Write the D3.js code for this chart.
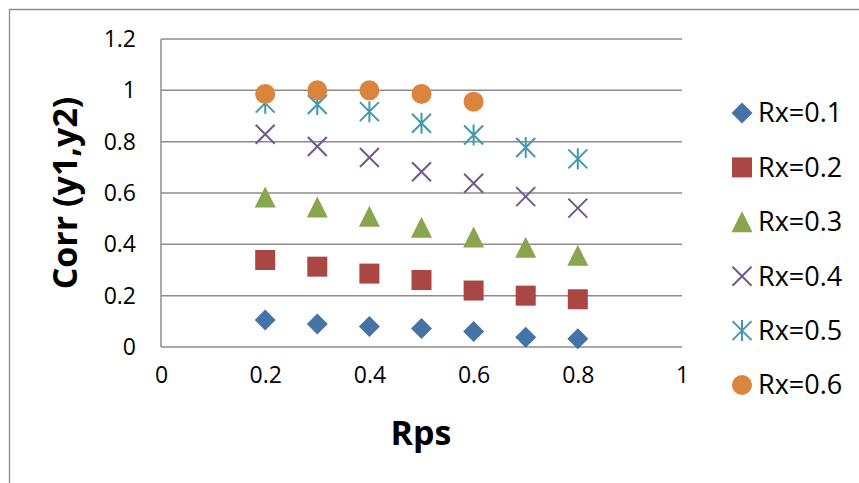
<!DOCTYPE html>
<html>
<head>
<meta charset="utf-8">
<script src="https://cdn.jsdelivr.net/npm/d3@7"></script>
<style>
  html, body { margin: 0; padding: 0; background: #fff; }
  svg { display: block; }
  text { font-family: "Open Sans", "Noto Sans", sans-serif; fill: #000; }
</style>
</head>
<body>
<svg id="chart" width="859" height="483"></svg>
<script>
// Rps values on the x axis
const rps = [0.2, 0.3, 0.4, 0.5, 0.6, 0.7, 0.8];

// Corr(y1,y2) for each Rx level
const rx01 = [0.105, 0.090, 0.080, 0.072, 0.060, 0.038, 0.032];
const rx02 = [0.339, 0.313, 0.286, 0.261, 0.220, 0.200, 0.186];
const rx03 = [0.584, 0.545, 0.509, 0.467, 0.429, 0.389, 0.357];
const rx04 = [0.829, 0.781, 0.738, 0.683, 0.638, 0.586, 0.541];
const rx05 = [0.950, 0.945, 0.917, 0.872, 0.826, 0.777, 0.733];
const rx06 = [0.986, 1.000, 1.000, 0.986, 0.956];

const seriesNames = ["Rx=0.1", "Rx=0.2", "Rx=0.3", "Rx=0.4", "Rx=0.5", "Rx=0.6"];
const xTicks = [0, 0.2, 0.4, 0.6, 0.8, 1];
const yTicks = [0, 0.2, 0.4, 0.6, 0.8, 1, 1.2];

const seriesValues = [rx01, rx02, rx03, rx04, rx05, rx06];
const colors = ["#4572A7", "#AA4643", "#89A54E", "#71588F", "#4198AF", "#DB843D"];
const shapes = ["diamond", "square", "triangle", "cross", "star", "circle"];

const svg = d3.select("#chart");

// Outer chart frame (top and left edges visible)
svg.append("path")
  .attr("d", "M9.5,483 L9.5,9.5 L859,9.5")
  .attr("fill", "none")
  .attr("stroke", "#8c8c8c")
  .attr("stroke-width", 1.3);

const plot = { left: 161, right: 682, top: 39, bottom: 347 };

const x = d3.scaleLinear().domain([0, 1]).range([plot.left, plot.right]);
const y = d3.scaleLinear().domain([0, 1.2]).range([plot.bottom, plot.top]);

// Horizontal gridlines
svg.append("g")
  .selectAll("line")
  .data(yTicks)
  .join("line")
  .attr("x1", plot.left)
  .attr("x2", plot.right)
  .attr("y1", d => y(d))
  .attr("y2", d => y(d))
  .attr("stroke", "#8c8c8c")
  .attr("stroke-width", 1.5);

// Left axis line
svg.append("line")
  .attr("x1", plot.left).attr("x2", plot.left)
  .attr("y1", plot.top).attr("y2", plot.bottom)
  .attr("stroke", "#8c8c8c")
  .attr("stroke-width", 1.5);

// Y axis tick labels
const yAxis = d3.axisLeft(y).tickValues(yTicks).tickSize(0).tickPadding(0)
  .tickFormat(d => d3.format("")(+d.toFixed(1)));
const gy = svg.append("g").attr("transform", `translate(${plot.left - 25},0)`).call(yAxis);
gy.select(".domain").remove();
gy.selectAll("text")
  .attr("font-family", "Open Sans")
  .attr("font-size", 23)
  .attr("fill", "#000");

// X axis tick labels
const xAxis = d3.axisBottom(x).tickValues(xTicks).tickSize(0).tickPadding(0)
  .tickFormat(d => d3.format("")(+d.toFixed(1)));
const gx = svg.append("g").attr("transform", `translate(0,${plot.bottom + 20})`).call(xAxis);
gx.select(".domain").remove();
gx.selectAll("text")
  .attr("font-family", "Open Sans")
  .attr("font-size", 23)
  .attr("fill", "#000");

// Axis titles
svg.append("text")
  .attr("transform", "translate(77,193) rotate(-90)")
  .attr("text-anchor", "middle")
  .attr("font-weight", "bold")
  .attr("font-size", 34)
  .text("Corr (y1,y2)");

svg.append("text")
  .attr("x", 421)
  .attr("y", 445)
  .attr("text-anchor", "middle")
  .attr("font-weight", "bold")
  .attr("font-size", 34)
  .text("Rps");

// Marker drawing
function drawMarker(g, shape, color) {
  const r = 10.5;
  if (shape === "diamond") {
    g.append("path").attr("d", `M0,${-r} L${r},0 L0,${r} L${-r},0 Z`).attr("fill", color);
  } else if (shape === "square") {
    g.append("rect").attr("x", -10).attr("y", -10).attr("width", 20).attr("height", 20).attr("fill", color);
  } else if (shape === "triangle") {
    g.append("path").attr("d", `M0,${-r} L${r},${r} L${-r},${r} Z`).attr("fill", color);
  } else if (shape === "circle") {
    g.append("circle").attr("r", 10).attr("fill", color);
  } else if (shape === "cross") {
    const s = 9.5;
    g.append("path").attr("d", `M${-s},${-s} L${s},${s} M${-s},${s} L${s},${-s}`)
      .attr("stroke", color).attr("stroke-width", 2).attr("fill", "none");
  } else if (shape === "star") {
    const s = 9.5;
    g.append("path").attr("d", `M${-s},${-s} L${s},${s} M${-s},${s} L${s},${-s} M0,${-s - 1} L0,${s + 1}`)
      .attr("stroke", color).attr("stroke-width", 2).attr("fill", "none");
  }
}

// Data points
seriesValues.forEach((vals, i) => {
  const pts = vals.map((v, j) => ({ x: rps[j], y: v }));
  svg.append("g")
    .selectAll("g")
    .data(pts)
    .join("g")
    .attr("transform", d => `translate(${x(d.x)},${y(d.y)})`)
    .each(function () { drawMarker(d3.select(this), shapes[i], colors[i]); });
});

// Legend
const legend = svg.append("g");
seriesNames.forEach((name, i) => {
  const cy = 113 + i * 54.4;
  const g = legend.append("g").attr("transform", `translate(742,${cy})`);
  drawMarker(g, shapes[i], colors[i]);
  legend.append("text")
    .attr("x", 758)
    .attr("y", cy)
    .attr("dy", "0.35em")
    .attr("font-size", 27)
    .text(name);
});
</script>
</body>
</html>
